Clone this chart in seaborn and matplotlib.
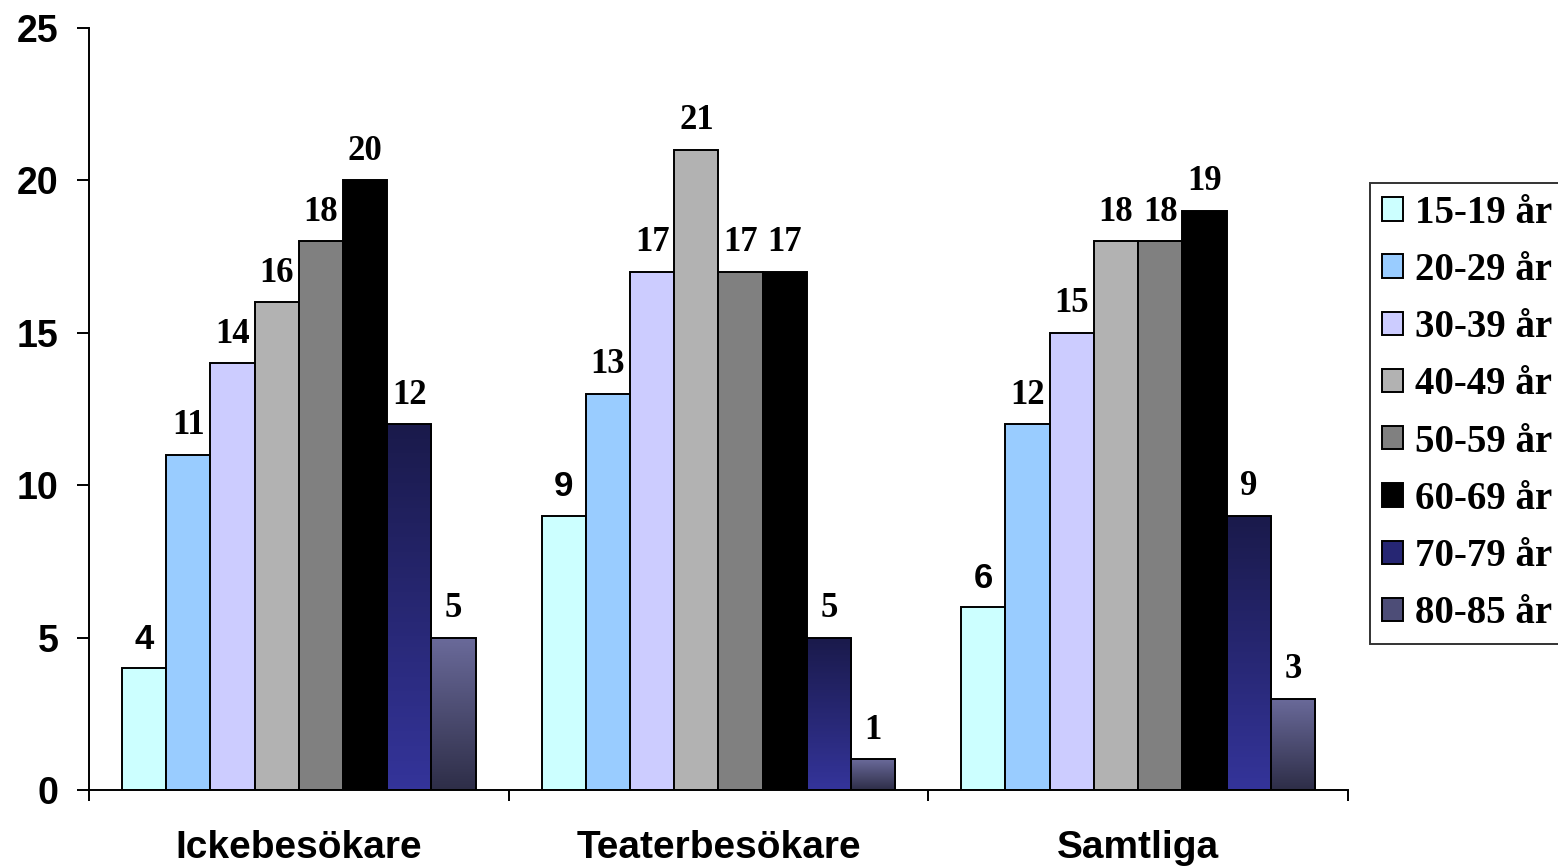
import numpy as np
import pandas as pd
import matplotlib.pyplot as plt
import seaborn as sns
from matplotlib.colors import LinearSegmentedColormap
from matplotlib.patches import Patch

# data
groups = ["Ickebesökare", "Teaterbesökare", "Samtliga"]
ages = ["15-19 år", "20-29 år", "30-39 år", "40-49 år",
        "50-59 år", "60-69 år", "70-79 år", "80-85 år"]
ickebesokare = [4, 11, 14, 16, 18, 20, 12, 5]
teaterbesokare = [9, 13, 17, 21, 17, 17, 5, 1]
samtliga = [6, 12, 15, 18, 18, 19, 9, 3]

colors = ["#ccffff", "#99ccff", "#ccccff", "#b2b2b2",
          "#808080", "#000000", "#262673", "#4d4d77"]
# gradients (top, bottom) for the two last series
gradients = {6: ("#1a1a4b", "#34349a"), 7: ("#6a6a9a", "#2e2e48")}

rows = []
for g, vals in zip(groups, [ickebesokare, teaterbesokare, samtliga]):
    for a, v in zip(ages, vals):
        rows.append({"grupp": g, "ålder": a, "andel": v})
df = pd.DataFrame(rows)

plt.rcParams["font.family"] = ["Liberation Sans", "DejaVu Sans"]
plt.rcParams["font.weight"] = "bold"

fig = plt.figure(figsize=(15.58, 8.66), dpi=100)
ax = fig.add_axes([0.0571, 0.0878, 0.8081, 0.8799])

sns.barplot(data=df, x="grupp", y="andel", hue="ålder", order=groups,
            hue_order=ages, palette=colors, width=0.843, saturation=1,
            edgecolor="black", linewidth=1.4, legend=False, ax=ax)

# gradient fill for the two oldest groups
for i, (top, bottom) in gradients.items():
    cmap = LinearSegmentedColormap.from_list("g%d" % i, [top, bottom])
    for p in ax.containers[i].patches:
        x0, y0 = p.get_x(), p.get_y()
        w, h = p.get_width(), p.get_height()
        im = ax.imshow(np.linspace(0, 1, 100).reshape(-1, 1), cmap=cmap,
                       extent=(x0, x0 + w, y0, y0 + h), origin="upper",
                       aspect="auto", zorder=p.get_zorder() - 0.1)
        im.set_clip_path(p)
        p.set_facecolor("none")

# value labels
for i, cont in enumerate(ax.containers):
    fam = ["Liberation Sans"] if i == 0 else ["Liberation Serif"]
    ax.bar_label(cont, fmt="%d", padding=9, fontsize=25,
                 fontweight="bold", family=fam)

ax.set_xlim(-0.5, 2.5)
ax.set_ylim(0, 25)
ax.set_yticks([0, 5, 10, 15, 20, 25])
ax.set_xticks([-0.5, 0.5, 1.5, 2.5])
ax.set_xticklabels([])
ax.set_xticks([0, 1, 2], minor=True)
ax.set_xticklabels(groups, minor=True, fontsize=28, fontweight="bold")
ax.tick_params(axis="x", which="major", length=8, width=1.4, direction="out")
ax.tick_params(axis="x", which="minor", length=0, pad=29)
ax.tick_params(axis="y", length=9, width=1.4, pad=13, labelsize=27)
for t in ax.get_yticklabels():
    t.set_fontweight("bold")
ax.set_xlabel("")
ax.set_ylabel("")
for s in ["top", "right"]:
    ax.spines[s].set_visible(False)
for s in ["left", "bottom"]:
    ax.spines[s].set_linewidth(1.4)
    ax.spines[s].set_color("black")

handles = [Patch(facecolor=c, edgecolor="black", linewidth=1.4) for c in colors]
leg = fig.legend(handles, ages, loc="upper left",
                 bbox_to_anchor=(0.8793, 0.7887), borderaxespad=0,
                 frameon=True, fancybox=False,
                 edgecolor="black", handlelength=0.55, handleheight=0.55,
                 handletextpad=0.3, labelspacing=0.52, borderpad=0.3,
                 prop={"family": "Liberation Serif", "weight": "bold", "size": 28})
leg.get_frame().set_linewidth(1.4)

fig.savefig("out.png", dpi=100)
